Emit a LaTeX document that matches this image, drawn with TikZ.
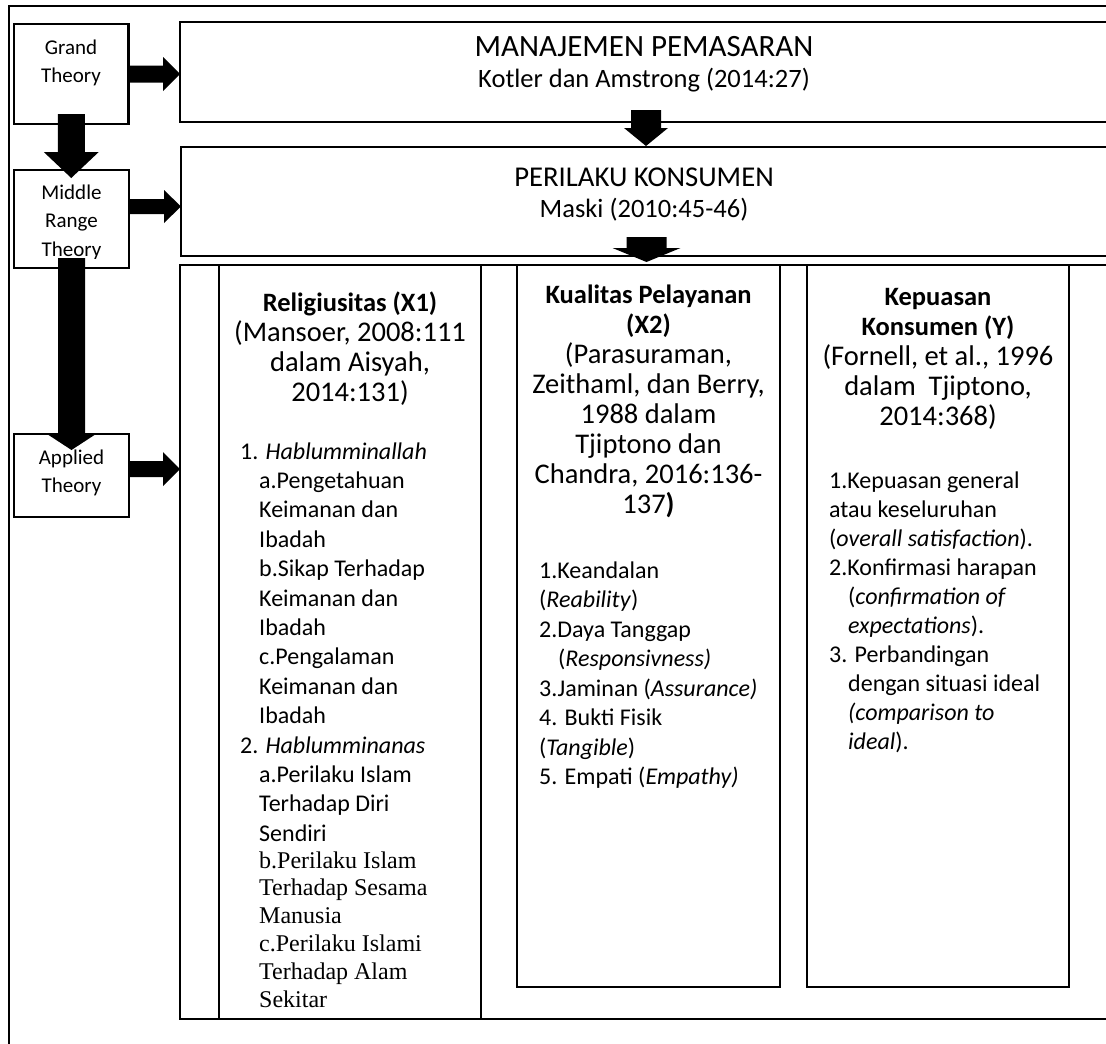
\documentclass[tikz,border=0pt]{standalone}
\usepackage{fontspec}
\setmainfont{Carlito}
\newfontfamily\tnr{Liberation Serif}
\usetikzlibrary{calc}

\tikzset{
  frame/.style={draw, line width=2.6pt, inner sep=0pt, outer sep=0pt},
  sidelbl/.style={inner sep=0pt, font=\fontsize{21}{28.5}\selectfont, align=center},
  ttl/.style={inner sep=0pt, font=\fontsize{26.5}{31}\selectfont, align=center, anchor=north},
  hdr/.style={inner sep=0pt, font=\fontsize{28.5}{30}\selectfont, align=center, anchor=north},
  lst/.style={inner sep=0pt, font=\fontsize{24}{29.4}\selectfont, align=left, anchor=north west},
}
\newcommand\hb[1]{{\fontsize{26.5}{30}\selectfont\bfseries #1}}

% block arrow to the right: start, tip, half shaft, head length, half head
\newcommand\blkR[5]{\fill let \p1=(#1), \p2=(#2) in
  (\x1,{\y1+#3}) -- ({\x2-#4},{\y1+#3}) -- ({\x2-#4},{\y1+#5}) -- (\x2,\y1)
  -- ({\x2-#4},{\y1-#5}) -- ({\x2-#4},{\y1-#3}) -- (\x1,{\y1-#3}) -- cycle;}
% block arrow downwards: start, tip, half shaft, head length, half head
\newcommand\blkD[5]{\fill let \p1=(#1), \p2=(#2) in
  ({\x1-#3},\y1) -- ({\x1-#3},{\y2+#4}) -- ({\x1-#5},{\y2+#4}) -- (\x1,\y2)
  -- ({\x1+#5},{\y2+#4}) -- ({\x1+#3},{\y2+#4}) -- ({\x1+#3},\y1) -- cycle;}

\begin{document}
\begin{tikzpicture}[x=1pt,y=-1pt]
\useasboundingbox (0,0) rectangle (1106,1044);
\fill[white] (0,0) rectangle (1106,1044);
\clip (0,0) rectangle (1106,1044);

% outer frame
\node[frame, minimum width=1111pt, minimum height=1054pt] (outer) at (564.5,533) {};

% left theory boxes
\node[frame, minimum width=114.5pt, minimum height=100pt] (grand) at (71.25,74) {};
\node[frame, minimum width=115pt, minimum height=98pt] (middle) at (71.5,219) {};
\node[frame, minimum width=115pt, minimum height=83pt] (applied) at (71.5,475.5) {};

% right boxes
\node[frame, minimum width=930pt, minimum height=100pt] (manaj) at (645,72) {};
\node[frame, minimum width=929pt, minimum height=109pt] (perilaku) at (645.5,201.5) {};
\node[frame, minimum width=930pt, minimum height=754pt] (big) at (645,642) {};
\node[frame, minimum width=262pt, minimum height=754pt] (col1) at (350,642) {};
\node[frame, minimum width=263pt, minimum height=722pt] (col2) at (648.5,626) {};
\node[frame, minimum width=262pt, minimum height=722pt] (col3) at (938,626) {};

% side labels
\node[sidelbl] (grandtxt) at (71,63) {Grand\\Theory};
\begin{scope}
  \clip (14,170) rectangle (129,258);
  \node[sidelbl] (midtxt) at (71.5,222) {Middle\\Range\\Theory};
\end{scope}
\node[sidelbl] (apptxt) at (71.5,473) {Applied\\Theory};

% titles
\node[ttl] (manajtxt) at (644,34.3) {\strut{\fontsize{31}{31}\selectfont MANAJEMEN PEMASARAN}\\Kotler dan Amstrong (2014:27)};
\node[ttl] (perilakutxt) at (644,164.3) {\strut{\fontsize{28.7}{31}\selectfont PERILAKU KONSUMEN}\\Maski (2010:45-46)};

% column headers
\node[hdr] (h1) at (350,290) {\strut\hb{Religiusitas (X1)}\\(Mansoer, 2008:111\\dalam Aisyah,\\2014:131)};
\node[hdr] (h2) at (648.5,282) {\strut\hb{Kualitas Pelayanan}\\\hb{(X2)}\\(Parasuraman,\\Zeithaml, dan Berry,\\1988 dalam\\Tjiptono dan\\Chandra, 2016:136-\\137\textbf{)}};
\node[hdr] (h3) at (938,284) {\strut\hb{Kepuasan}\\\hb{Konsumen (Y)}\\(Fornell, et al., 1996\\dalam\ \ Tjiptono,\\2014:368)};

% column lists
\node[lst] (l1a) at (240,438.4) {\strut 1. \textit{Hablumminallah}\\
\hspace*{19pt}a.Pengetahuan\\
\hspace*{19pt}Keimanan dan\\
\hspace*{19pt}Ibadah\\
\hspace*{19pt}b.Sikap Terhadap\\
\hspace*{19pt}Keimanan dan\\
\hspace*{19pt}Ibadah\\
\hspace*{19pt}c.Pengalaman\\
\hspace*{19pt}Keimanan dan\\
\hspace*{19pt}Ibadah\\
2. \textit{Hablumminanas}\\
\hspace*{19pt}a.Perilaku Islam\\
\hspace*{19pt}Terhadap Diri\\
\hspace*{19pt}Sendiri};
\node[lst, font=\tnr\fontsize{24}{27.8}\selectfont] (l1b) at (259,848.5) {\strut b.Perilaku Islam\\Terhadap Sesama\\Manusia\\c.Perilaku Islami\\Terhadap Alam\\Sekitar};

\node[lst, font=\fontsize{24}{29.5}\selectfont] (l2) at (539,557.4) {\strut 1.Keandalan\\
(\textit{Reability})\\
2.Daya Tanggap\\
\hspace*{19pt}(\textit{Responsivness)}\\
3.Jaminan (\textit{Assurance)}\\
4. Bukti Fisik\\
(\textit{Tangible})\\
5. Empati (\textit{Empathy)}};

\node[lst, font=\fontsize{24}{29}\selectfont] (l3) at (829,467.7) {\strut 1.Kepuasan general\\
atau keseluruhan\\
(\textit{overall satisfaction}).\\
2.Konfirmasi harapan\\
\hspace*{19pt}(\textit{confirmation of}\\
\hspace*{19pt}\textit{expectations}).\\
3. Perbandingan\\
\hspace*{19pt}dengan situasi ideal\\
\hspace*{19pt}\textit{(comparison to}\\
\hspace*{19pt}\textit{ideal}).};

% arrow end points
\coordinate (a1s) at (grand.east);
\coordinate (a1t) at (manaj.west |- grand.east);
\coordinate (a2s) at ($(middle.east)+(0,-12.5)$);
\coordinate (a2t) at (perilaku.west |- a2s);
\coordinate (a3s) at ($(applied.east)+(0,-6.5)$);
\coordinate (a3t) at (big.west |- a3s);
\coordinate (a4s) at ($(grand.south)+(0,-10)$);
\coordinate (a4t) at ($(middle.north)+(0,8)$);
\coordinate (a5s) at ($(middle.south)+(0,-10)$);
\coordinate (a5t) at ($(applied.north)+(0,16)$);
\coordinate (a6s) at ($(manaj.south)+(1,-12)$);
\coordinate (a6t) at ($(perilaku.north)+(0.5,-1)$);
\coordinate (a7s) at ($(perilaku.south)+(1,-19)$);
\coordinate (a7t) at ($(big.north)+(1,-3)$);

% block arrows
\blkR{a1s}{a1t}{8.5}{17}{17}
\blkR{a2s}{a2t}{7.5}{17}{16.5}
\blkR{a3s}{a3t}{8}{17}{17}
\blkD{a4s}{a4t}{13.5}{26}{27.5}
\blkD{a5s}{a5t}{13.5}{17}{26}
\blkD{a6s}{a6t}{15}{18}{22}
\blkD{a7s}{a7t}{20}{14}{34}
\end{tikzpicture}
\end{document}
